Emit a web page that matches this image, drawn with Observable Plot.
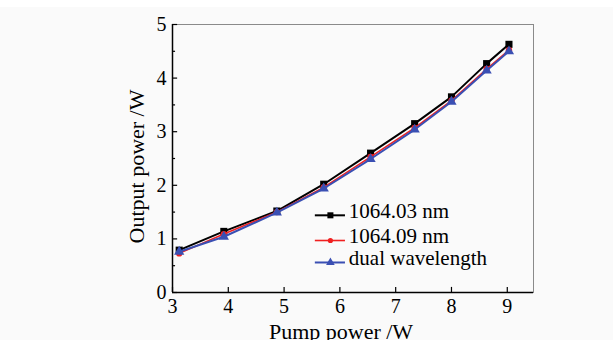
<!DOCTYPE html>
<html>
<head>
<meta charset="utf-8">
<script src="https://cdn.jsdelivr.net/npm/d3@7"></script>
<script src="https://cdn.jsdelivr.net/npm/@observablehq/plot@0.6"></script>
<style>
  html, body { margin: 0; padding: 0; background: #ffffff; overflow: hidden; }
  #chart { padding-top: 7px; width: 613px; height: 333px; }
  #chart svg { display: block; }
  #chart svg text { font-family: 'Liberation Serif', 'Times New Roman', serif; font-variant: normal; }
</style>
</head>
<body>
<div id="chart"></div>
<script>
// ---- data ----
const pumpPower = [3.12, 3.92, 4.87, 5.71, 6.55, 7.34, 8.0, 8.63, 9.03];
const out106403 = [0.79, 1.14, 1.52, 2.02, 2.60, 3.15, 3.65, 4.27, 4.63];
const out106409 = [0.73, 1.09, 1.50, 1.96, 2.53, 3.07, 3.58, 4.17, 4.52];
const outDual   = [0.76, 1.04, 1.49, 1.94, 2.49, 3.04, 3.56, 4.14, 4.50];
const seriesNames = ["1064.03 nm", "1064.09 nm", "dual wavelength"];
const xTicks = [3, 4, 5, 6, 7, 8, 9];
const yTicks = [0, 1, 2, 3, 4, 5];
const yMinorTicks = [0.5, 1.5, 2.5, 3.5, 4.5];
const xTitle = "Pump power /W";
const yTitle = "Output power /W";

const colors = ["#000000", "#f02020", "#3a4fb3"];
const symbols = ["square", "circle", "triangle"];
const radii = [4, 3.2, 3.8];
const widths = [2, 1.6, 2];

const allSeries = [out106403, out106409, outDual];
const rows = [];
allSeries.forEach((vals, si) => vals.forEach((v, i) => rows.push({series: seriesNames[si], si, x: pumpPower[i], y: v})));

// legend rows (in data units inside the frame)
const legendY = [1.44, 0.97, 0.56];
const legendX1 = 5.56, legendX2 = 6.10, legendXm = 5.83, legendTextX = 6.16;
const legend = seriesNames.map((name, i) => ({name, i, y: legendY[i]}));

const font = "'Liberation Serif', 'Times New Roman', serif";
const xTickLen = 0.095, yTickLen = 0.092, yMinorLen = 0.055;

const marks = [
  Plot.frame({stroke: "#8a8a8a", strokeWidth: 1}),
  Plot.ruleY([0], {stroke: "#000", strokeWidth: 1.5}),
  Plot.ruleX([3], {stroke: "#000", strokeWidth: 1.5}),
  Plot.ruleX(xTicks, {x: d => d, y1: 0, y2: xTickLen, stroke: "#000", strokeWidth: 1.2}),
  Plot.ruleY(yTicks, {y: d => d, x1: 3, x2: 3 + yTickLen, stroke: "#000", strokeWidth: 1.2}),
  Plot.ruleY(yMinorTicks, {y: d => d, x1: 3, x2: 3 + yMinorLen, stroke: "#000", strokeWidth: 1.2}),
  // tick labels
  Plot.text(xTicks, {x: d => d, y: () => 0, text: d => String(d), lineAnchor: "top", textAnchor: "middle", dy: 6, fontSize: 20, fontFamily: font, fill: "#000"}),
  Plot.text(yTicks, {x: () => 3, y: d => d, text: d => String(d), lineAnchor: "middle", textAnchor: "end", dx: -6, fontSize: 20, fontFamily: font, fill: "#000"}),
];

[0, 1, 2].forEach(si => {
  const data = rows.filter(r => r.si === si);
  marks.push(Plot.line(data, {x: "x", y: "y", stroke: colors[si], strokeWidth: widths[si]}));
  marks.push(Plot.dot(data, {x: "x", y: "y", symbol: symbols[si], fill: colors[si], r: radii[si], stroke: null}));
});

// legend
legend.forEach(d => {
  marks.push(Plot.ruleY([d], {y: "y", x1: legendX1, x2: legendX2, stroke: colors[d.i], strokeWidth: widths[d.i]}));
  marks.push(Plot.dot([d], {x: () => legendXm, y: "y", symbol: symbols[d.i], fill: colors[d.i], r: radii[d.i] - 0.6, stroke: null}));
  marks.push(Plot.text([d], {x: () => legendTextX, y: "y", text: "name", textAnchor: "start", lineAnchor: "middle", dy: -4, fontSize: 21, fontFamily: font, fill: "#000"}));
});

// axis titles
marks.push(Plot.text([xTitle], {frameAnchor: "bottom", text: d => d, textAnchor: "middle", lineAnchor: "bottom", dy: 46, dx: -12, fontSize: 22, fontFamily: font, fill: "#000"}));
marks.push(Plot.text([yTitle], {frameAnchor: "left", text: d => d, rotate: -90, textAnchor: "middle", lineAnchor: "bottom", dx: -29, dy: 8, fontSize: 22, fontFamily: font, fill: "#000"}));

const chart = Plot.plot({
  width: 613,
  height: 333,
  marginLeft: 172,
  marginRight: 80,
  marginTop: 17,
  marginBottom: 48,
  x: {domain: [3, 9.47], axis: null},
  y: {domain: [0, 5], axis: null},
  style: {background: "#fafafa", fontFamily: font, color: "#000", overflow: "visible"},
  marks
});
document.getElementById("chart").appendChild(chart);
</script>
</body>
</html>
